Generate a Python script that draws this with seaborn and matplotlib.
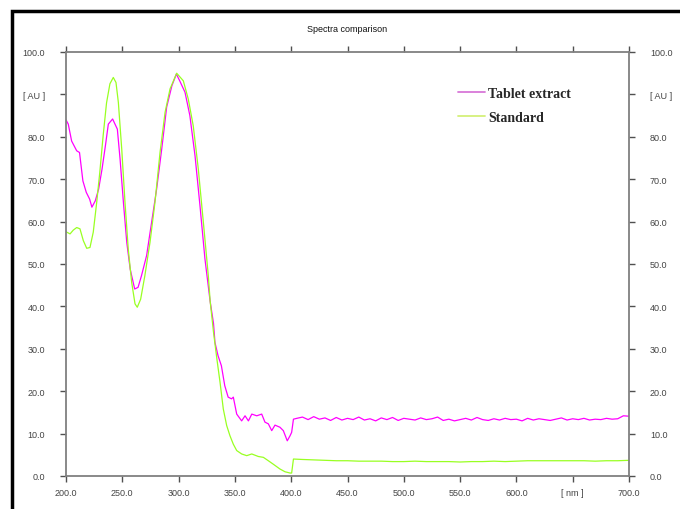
import matplotlib
matplotlib.use("Agg")
import matplotlib.pyplot as plt
import matplotlib.patches as mpatches
import seaborn as sns
import pandas as pd

# Tablet extract (magenta) readings
tab_x = [200, 202, 205, 209.5, 212, 215, 218, 221, 223, 226, 229, 232, 235, 237.6, 241.4, 243.5,
         245.6, 248, 251, 254, 257, 261, 264, 267, 271.6, 276, 280.5, 285, 289.4, 294, 298, 301,
         305.7, 310, 314.6, 319, 323.4, 328, 331, 332.3, 335, 338, 341, 344, 347, 348.6, 351.6,
         356, 359, 362, 365, 369.4, 373.8, 376.7, 379.7, 382.7, 385.6, 390, 393, 396.5, 399, 400.4,
         402, 405, 410, 415, 420, 425, 430, 435, 440, 445, 450, 455, 460, 465, 470, 475, 480, 485,
         490, 495, 500, 505, 510, 515, 520, 525, 530, 535, 540, 545, 550, 555, 560, 565, 570, 575,
         580, 585, 590, 595, 600, 605, 610, 615, 620, 625, 630, 635, 640, 645, 650, 655, 660, 665,
         670, 675, 680, 685, 690, 695, 700]
tab_y = [84.0, 83.0, 79.0, 76.7, 76.3, 69.6, 66.9, 65.3, 63.4, 64.9, 67.7, 72.4, 77.9, 83.0, 84.2, 83.0,
         81.8, 74.8, 64.5, 55.0, 48.8, 44.1, 44.5, 47.2, 52.0, 59.8, 67.7, 77.1, 87.0, 92.0, 94.8, 93.2,
         90.5, 85.0, 75.5, 63.7, 51.2, 41.2, 36.0, 31.5, 28.4, 26.0, 21.3, 18.6, 18.2, 18.6, 14.6,
         13.0, 14.2, 13.0, 14.6, 14.2, 14.6, 12.7, 12.3, 10.7, 12.0, 11.5, 10.7, 8.3, 9.5, 10.3,
         13.4, 13.6, 13.9, 13.3, 14.0, 13.4, 13.7, 13.1, 13.8, 13.2, 13.6, 13.3, 13.9, 13.2, 13.5, 13.0,
         13.7, 13.3, 13.8, 13.1, 13.6, 13.4, 13.2, 13.7, 13.3, 13.5, 13.9, 13.1, 13.4, 13.0, 13.3, 13.6,
         13.2, 13.8, 13.3, 13.1, 13.5, 13.2, 13.6, 13.3, 13.4, 13.0, 13.6, 13.2, 13.5, 13.3, 13.1, 13.4,
         13.7, 13.2, 13.5, 13.3, 13.6, 13.2, 13.4, 13.3, 13.6, 13.4, 13.5, 14.2, 14.1]

# Standard (green) readings
std_x = [200, 203.6, 206.5, 209.5, 212.4, 215.4, 218.4, 221.3, 224.2, 227.3, 230, 233, 236, 239, 242,
         244.4, 246.5, 249.5, 252.4, 255.3, 258.3, 261.3, 263.3, 266.3, 270, 274.6, 279, 283.5, 288,
         292.4, 298.3, 304.2, 308.6, 313, 317.5, 322, 326.4, 328, 331, 334, 336.8, 339.7, 342.7, 345.6,
         348.6, 351.6, 356, 360.5, 365, 370.8, 375.3, 379.7, 384, 390, 394.5, 399, 400.4, 402, 410,
         420, 430, 440, 450, 460, 470, 480, 490, 500, 510, 520, 530, 540, 550, 560, 570, 580, 590,
         600, 610, 620, 630, 640, 650, 660, 670, 680, 690, 700]
std_y = [57.6, 57.1, 58.0, 58.6, 58.3, 55.5, 53.7, 53.9, 57.5, 64.6, 71.6, 80.3, 88.0, 92.5, 94.0,
         92.8, 88.1, 77.1, 64.5, 53.5, 45.7, 40.6, 39.8, 41.7, 47.2, 55.1, 64.5, 76.3, 85.8,
         91.3, 95.0, 93.2, 88.9, 82.6, 72.4, 59.8, 47.2, 41.3, 33.9, 27.6, 22.1, 15.8, 11.9, 9.5,
         7.5, 6.0, 5.2, 4.8, 5.2, 4.6, 4.4, 3.6, 2.8, 1.65, 1.0, 0.7, 0.7, 4.0, 3.9,
         3.8, 3.7, 3.6, 3.6, 3.5, 3.5, 3.5, 3.4, 3.4, 3.5, 3.4, 3.4, 3.4, 3.3, 3.4, 3.4, 3.5, 3.4,
         3.5, 3.6, 3.6, 3.6, 3.6, 3.6, 3.6, 3.5, 3.6, 3.6, 3.7]

series_names = ["Tablet extract", "Standard"]
x_ticks = [200, 250, 300, 350, 400, 450, 500, 550, 600, 650, 700]
x_labels = ["200.0", "250.0", "300.0", "350.0", "400.0", "450.0", "500.0", "550.0", "600.0", "[ nm ]", "700.0"]
y_ticks = [0, 10, 20, 30, 40, 50, 60, 70, 80, 90, 100]
y_labels = ["0.0", "10.0", "20.0", "30.0", "40.0", "50.0", "60.0", "70.0", "80.0", "[ AU ]", "100.0"]
title = "Spectra comparison"

df = pd.concat([
    pd.DataFrame({"nm": tab_x, "AU": tab_y, "series": series_names[0]}),
    pd.DataFrame({"nm": std_x, "AU": std_y, "series": series_names[1]}),
])

sns.set_style("white")
plt.rcParams['font.family'] = ['Liberation Sans', 'DejaVu Sans']

fig = plt.figure(figsize=(6.8, 5.1), dpi=100)
ax = fig.add_axes([66/680, 33/510, (629-66)/680, (477-53)/510])

palette = {series_names[0]: "#ff00ff", series_names[1]: "#99ff22"}
sns.lineplot(data=df, x="nm", y="AU", hue="series", palette=palette, ax=ax,
             linewidth=0.9, estimator=None, sort=False, legend=True)

ax.set_xlim(200, 700)
ax.set_ylim(0, 100)
ax.set_xlabel("")
ax.set_ylabel("")
spine_c = "#808080"
for s in ax.spines.values():
    s.set_color(spine_c)
    s.set_linewidth(1.3)
ax.set_xticks(x_ticks)
ax.set_xticklabels(x_labels)
ax.set_yticks(y_ticks)
ax.set_yticklabels(y_labels)
ax.tick_params(axis="both", which="both", direction="out", length=4, width=1.0,
               color="#505050", labelsize=6.5, labelcolor="#444444", pad=5,
               bottom=True, top=True, left=True, right=True,
               labelright=True, labeltop=False)
ax.tick_params(axis="y", pad=11)

ax.set_title(title, fontsize=6.5, pad=15, color="#111111")

leg = ax.legend(loc="upper left", bbox_to_anchor=(0.686, 0.93), frameon=False,
                prop={"family": "Liberation Serif", "weight": "bold", "size": 10},
                handlelength=1.95, handletextpad=0.25, labelspacing=0.8, borderaxespad=0)
handle_colors = ["#d877d8", "#d4f07a"]
for h, c in zip(leg.get_lines(), handle_colors):
    h.set_linewidth(1.3)
    h.set_color(c)

rect = mpatches.Rectangle((11.5/680, -0.2), 1.2, 1.2 - 11.5/510, transform=fig.transFigure,
                          fill=False, edgecolor="black", linewidth=2.5, clip_on=False)
fig.patches.append(rect)

fig.savefig("out.png", dpi=100)
